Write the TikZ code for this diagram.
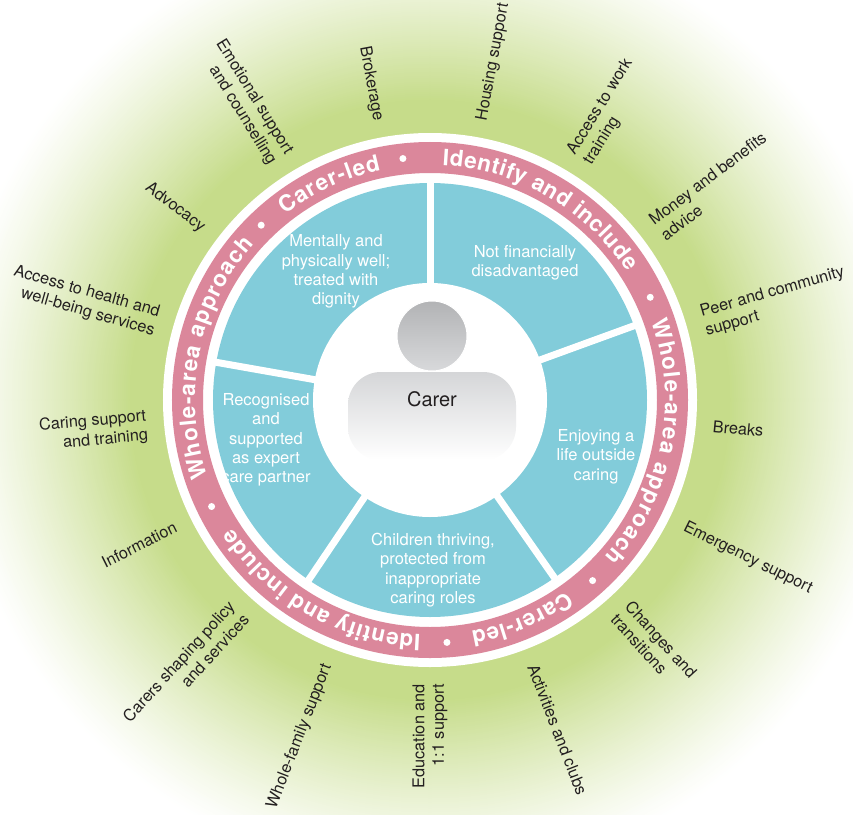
\documentclass[tikz,border=0pt]{standalone}
\usepackage{fontspec}
\setmainfont{TeX Gyre Heros}
\usetikzlibrary{decorations.text}
\definecolor{leafgreen}{RGB}{198,220,138}
\definecolor{ringpink}{RGB}{219,135,155}
\definecolor{segblue}{RGB}{130,204,218}
\definecolor{headtop}{RGB}{178,179,181}
\definecolor{headbottom}{RGB}{216,217,219}
\definecolor{bodytop}{RGB}{213,214,216}
\definecolor{labeltext}{RGB}{35,31,32}
\newcommand\ringfont{\fontsize{22.5}{22.5}\selectfont\bfseries\color{white}}

\begin{document}
\begin{tikzpicture}[
    x=1pt, y=1pt,
    segtext/.style={text=white, align=center, font=\fontsize{16.5}{19.3}\selectfont},
    outlabel/.style={text=labeltext, inner sep=0pt, font=\fontsize{16.3}{19.5}\selectfont},
    ringtext/.style={decorate, decoration={text along path, text align={fit to path}, text={|\ringfont|#1}}},
    spoke/.style={white, line width=7pt},
    headshape/.style={circle, minimum size=70pt, inner sep=0pt, top color=headtop, bottom color=headbottom, draw=white, line width=1pt},
    bodyshape/.style={rectangle, rounded corners=33pt, minimum width=168pt, minimum height=88pt, inner sep=0pt, top color=bodytop, bottom color=white},
]

% Background and green glow
\useasboundingbox (-430,-414) rectangle (423,400);
\fill[white] (-430,-414) rectangle (423,400);
\begin{scope}
\clip (-430,-414) rectangle (423,400);
\foreach \r in {478,476,...,300} {
    \pgfmathsetmacro\glow{100*((480-\r)/180)^1.2}
    \fill[leafgreen!\glow] (0,0) circle (\r);
}
\end{scope}

% Rings
\fill[white] (0,0) circle (267);
\fill[ringpink, even odd rule] (0,0) circle (258) (0,0) circle (227);
\fill[segblue] (0,0) circle (217);

% Spokes between outcomes
\foreach \s in {90,20,-55,-124,170}
    \draw[spoke] (\s:110) -- (\s:222);
\fill[white] (0,0) circle (117);

% Text round the pink ring
\path[ringtext=Whole-area approach] (199:235) arc[start angle=199, end angle=138.4, radius=235];
\path[ringtext=Carer-led] (128:235) arc[start angle=128, end angle=102, radius=235];
\path[ringtext=Identify and include] (87:235) arc[start angle=87, end angle=33, radius=235];
\path[ringtext=Whole-area approach] (19.5:235) arc[start angle=19.5, end angle=-42, radius=235];
\path[ringtext=Carer-led] (-54.6:235) arc[start angle=-54.6, end angle=-80, radius=235];
\path[ringtext=Identify and include] (-92.3:235) arc[start angle=-92.3, end angle=-147, radius=235];
\foreach \b in {134,96.4,25,-48,-86,-154}
    \fill[white] (\b:243) circle (3.5);

% Carer figure
\node[bodyshape] (body) at (2,-16) {};
\node[headshape] (head) at (2,64) {};
\node[text=labeltext, font=\fontsize{20}{24}\selectfont] (carer) at (2,1) {Carer};

% Outcomes
\node[segtext] (wellbeing) at (-94,128.5) {Mentally and\\physically well;\\treated with\\dignity};
\node[segtext] (finance) at (95,137) {Not financially\\disadvantaged};
\node[segtext] (life) at (166,-56.5) {Enjoying a\\life outside\\caring};
\node[segtext] (children) at (3,-170) {Children thriving,\\protected from\\inappropriate\\caring roles};
\node[segtext] (partner) at (-164,-40) {Recognised\\and\\supported\\as expert\\care partner};

% Support round the outside
\foreach \need [count=\i from 0] in {Housing support, {Access to work\\training}, {Money and benefits\\advice}, {Peer and community\\support}, Breaks, Emergency support, {Changes and\\transitions}, Activities and clubs, {Education and\\1:1 support}, Whole-family support, {Carers shaping policy\\and services}, Information, {Caring support\\and training}, {Access to health and\\well-being services}, Advocacy, {Emotional support\\and counselling}, Brokerage} {
    \pgfmathsetmacro\ang{79.4-21.1765*\i}
    \ifnum\i<8
        \node[outlabel, anchor=west, align=left, rotate=\ang] (need\i) at (\ang:284) {\need};
    \else
        \pgfmathsetmacro\flip{\ang+180}
        \node[outlabel, anchor=east, align=right, rotate=\flip] (need\i) at (\ang:284) {\need};
    \fi
}

\end{tikzpicture}
\end{document}
